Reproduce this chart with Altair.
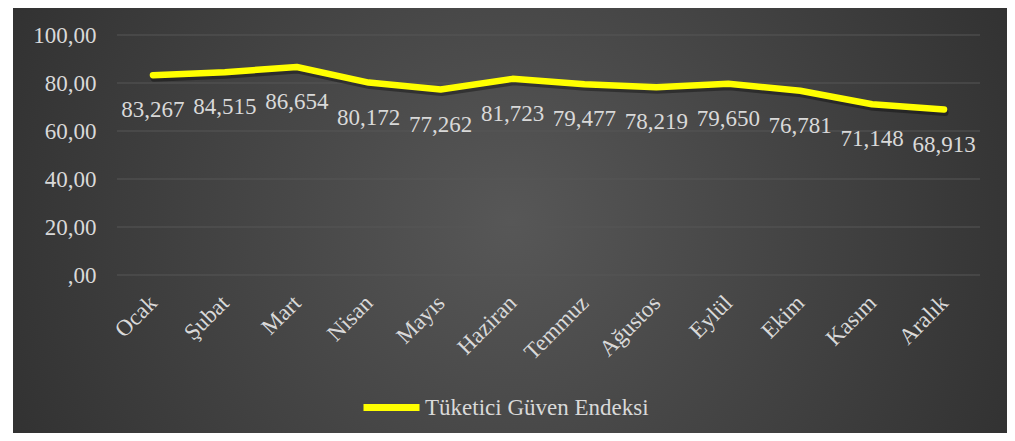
import altair as alt
import pandas as pd

months = ["Ocak", "Şubat", "Mart", "Nisan", "Mayıs", "Haziran", "Temmuz",
          "Ağustos", "Eylül", "Ekim", "Kasım", "Aralık"]
values = [83.267, 84.515, 86.654, 80.172, 77.262, 81.723, 79.477,
          78.219, 79.650, 76.781, 71.148, 68.913]
series_name = "Tüketici Güven Endeksi"
y_ticks = [0, 20, 40, 60, 80, 100]

df = pd.DataFrame({"ay": months, "deger": values, "seri": series_name})
grid_df = pd.DataFrame({"deger": y_ticks})

FONT = "Liberation Serif"
TXT = "#d9d9d9"

bg = alt.Chart(alt.Data(values=[{}])).mark_rect(
    color=alt.Gradient(
        gradient="radial",
        stops=[alt.GradientStop(color="#575757", offset=0),
               alt.GradientStop(color="#262626", offset=1)],
        x1=0.5, y1=0.5, r1=0, x2=0.5, y2=0.5, r2=0.72,
    )
).encode(x=alt.value(-104), x2=alt.value(893), y=alt.value(-27), y2=alt.value(402))

x_enc = alt.X("ay:N", sort=months, title=None,
              axis=alt.Axis(labelAngle=-45, labelAlign="right", labelBaseline="middle",
                            labelPadding=24, labelFont=FONT, labelFontSize=23,
                            labelColor=TXT, domain=False, ticks=False, grid=False,
                            zindex=1))
y_scale = alt.Scale(domain=[0, 100], nice=False)
y_enc = alt.Y("deger:Q", title=None, scale=y_scale,
              axis=alt.Axis(values=y_ticks, labelFont=FONT, labelFontSize=23,
                            labelColor=TXT, labelPadding=21, domain=False, ticks=False,
                            grid=False, zindex=1,
                            labelExpr="datum.value == 0 ? ',00' : replace(format(datum.value, '.2f'), '.', ',')"))

grid = alt.Chart(grid_df).mark_rule(color="#575757", strokeWidth=1.2).encode(
    y=y_enc, x=alt.value(0), x2=alt.value(863))

base = alt.Chart(df)

shadow = base.mark_line(color="black", opacity=0.35, strokeWidth=7, strokeCap="round",
                        strokeJoin="round", yOffset=3, xOffset=1).encode(x=x_enc, y=y_enc)

line = base.mark_line(strokeWidth=6.5, strokeCap="round", strokeJoin="round").encode(
    x=x_enc, y=y_enc,
    color=alt.Color("seri:N", scale=alt.Scale(range=["#ffff00"]), title=None,
                    legend=alt.Legend(orient="none", legendX=243, legendY=341,
                                      symbolType="stroke", symbolSize=3136,
                                      symbolStrokeWidth=7, labelFont=FONT,
                                      labelFontSize=23, labelColor=TXT,
                                      labelOffset=2, padding=0, labelLimit=500,
                                      zindex=1))
)

labels = base.transform_calculate(
    lab="replace(format(datum.deger, '.3f'), '.', ',')"
).mark_text(font=FONT, fontSize=23, color=TXT, baseline="alphabetic", dy=42).encode(
    x=x_enc, y=y_enc, text="lab:N")

chart = alt.layer(bg, grid, shadow, line, labels).properties(
    width=863, height=240,
    autosize=alt.AutoSizeParams(type="none"),
    padding={"left": 109, "top": 27, "right": 27, "bottom": 158},
    background="white",
).configure_view(strokeWidth=0)

chart.save("out.html", embed_options={"renderer": "svg", "actions": False})
